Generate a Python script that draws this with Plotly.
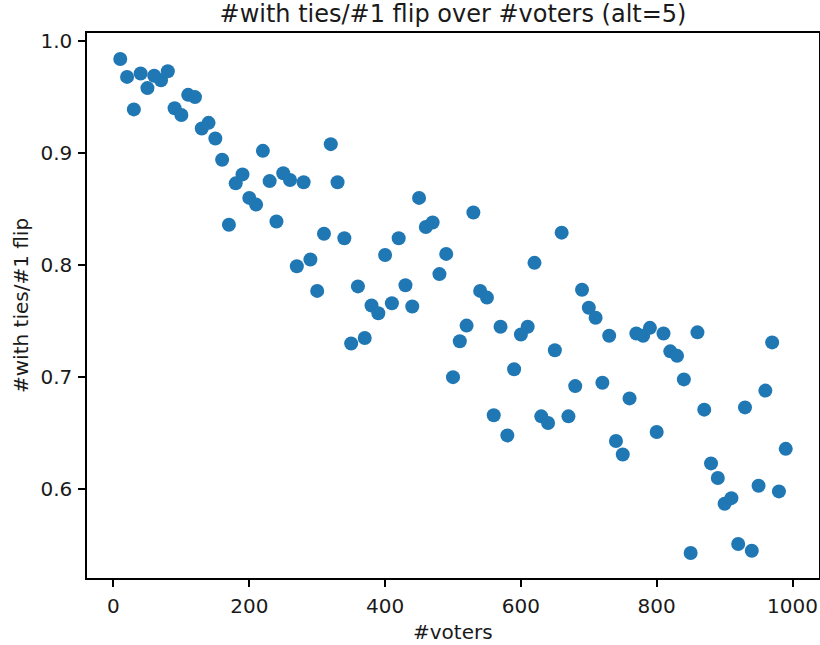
import plotly.graph_objects as go

voters = list(range(10, 1000, 10))
ratio = [
    0.984, 0.968, 0.939, 0.971, 0.958, 0.969, 0.965, 0.973, 0.940, 0.934,
    0.952, 0.950, 0.922, 0.927, 0.913, 0.894, 0.836, 0.873, 0.881, 0.860,
    0.854, 0.902, 0.875, 0.839, 0.882, 0.876, 0.799, 0.874, 0.805, 0.777,
    0.828, 0.908, 0.874, 0.824, 0.730, 0.781, 0.735, 0.764, 0.757, 0.809,
    0.766, 0.824, 0.782, 0.763, 0.860, 0.834, 0.838, 0.792, 0.810, 0.700,
    0.732, 0.746, 0.847, 0.777, 0.771, 0.666, 0.745, 0.648, 0.707, 0.738,
    0.745, 0.802, 0.665, 0.659, 0.724, 0.829, 0.665, 0.692, 0.778, 0.762,
    0.753, 0.695, 0.737, 0.643, 0.631, 0.681, 0.739, 0.737, 0.744, 0.651,
    0.739, 0.723, 0.719, 0.698, 0.543, 0.740, 0.671, 0.623, 0.610, 0.587,
    0.592, 0.551, 0.673, 0.545, 0.603, 0.688, 0.731, 0.598, 0.636,
]
x_ticks = [0, 200, 400, 600, 800, 1000]
y_ticks = [0.6, 0.7, 0.8, 0.9, 1.0]
y_tick_text = ["0.6", "0.7", "0.8", "0.9", "1.0"]

FONT = "DejaVu Sans"
W, H = 820, 645
L, R, T, B = 87, 1, 33, 67

fig = go.Figure(
    go.Scatter(
        x=voters, y=ratio, mode="markers",
        marker=dict(color="#1f77b4", size=14, line=dict(width=0)),
    )
)

axis_common = dict(
    showline=True, linecolor="black", linewidth=1.5, mirror=True,
    ticks="outside", ticklen=7, tickwidth=1.5, tickcolor="black",
    showgrid=False, zeroline=False, automargin=False,
    tickfont=dict(family=FONT, size=20, color="#1a1a1a"),
)

fig.update_layout(
    width=W, height=H,
    margin=dict(l=L, r=R, t=T, b=B),
    paper_bgcolor="white", plot_bgcolor="white",
    showlegend=False,
    title=dict(
        text="#with ties/#1 flip over #voters (alt=5)",
        font=dict(family=FONT, size=24, color="#1a1a1a"),
        x=0.5, xref="paper", xanchor="center",
        y=1 - 14 / H, yref="container", yanchor="middle",
    ),
    xaxis=dict(range=[-39, 1039], tickvals=x_ticks, ticklabelstandoff=2, **axis_common),
    yaxis=dict(range=[0.5207, 1.0072], tickvals=y_ticks, ticktext=y_tick_text,
               ticklabelstandoff=2, **axis_common),
    annotations=[
        dict(text="#voters", xref="paper", yref="paper",
             x=0.5, y=-(632 - (H - B)) / (H - T - B),
             xanchor="center", yanchor="middle", showarrow=False,
             font=dict(family=FONT, size=20, color="#1a1a1a")),
        dict(text="#with ties/#1 flip", xref="paper", yref="paper",
             x=-(L - 21) / (W - L - R), y=1 - (306 - T) / (H - T - B),
             xanchor="center", yanchor="middle", showarrow=False, textangle=-90,
             font=dict(family=FONT, size=20, color="#1a1a1a")),
    ],
)

fig.write_html(
    "out.html",
    config={"displayModeBar": False},
    post_script="document.body.style.margin='0';document.body.style.padding='0';"
                "document.body.style.overflow='hidden';"
                "document.documentElement.style.overflow='hidden';",
)
